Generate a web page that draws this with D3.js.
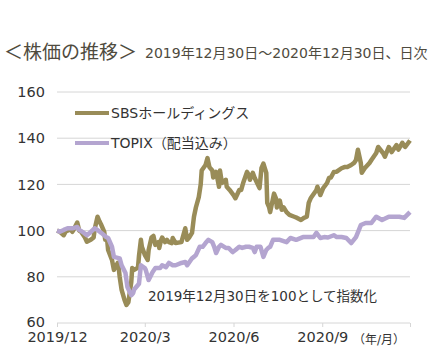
<!DOCTYPE html>
<html>
<head>
<meta charset="utf-8">
<script src="https://cdn.jsdelivr.net/npm/d3@7"></script>
<style>
  body { margin: 0; background: #fff; }
  text { font-family: "DejaVu Sans", "Noto Sans CJK JP", sans-serif; fill: #333; }
</style>
</head>
<body>
<div id="chart"></div>
<script>
// SBS daily index (2019/12/30 = 100)
var sbsDates = ["2019-12-30","2020-01-02","2020-01-06","2020-01-08","2020-01-13","2020-01-15","2020-01-17","2020-01-20","2020-01-22","2020-01-24","2020-01-28","2020-01-30","2020-02-03","2020-02-06","2020-02-07","2020-02-10","2020-02-12","2020-02-14","2020-02-17","2020-02-18","2020-02-20","2020-02-21","2020-02-25","2020-02-27","2020-03-02","2020-03-03","2020-03-04","2020-03-06","2020-03-09","2020-03-11","2020-03-13","2020-03-16","2020-03-17","2020-03-19","2020-03-23","2020-03-24","2020-03-26","2020-03-27","2020-03-30","2020-04-02","2020-04-03","2020-04-06","2020-04-08","2020-04-10","2020-04-13","2020-04-14","2020-04-16","2020-04-17","2020-04-20","2020-04-22","2020-04-24","2020-04-27","2020-04-28","2020-05-01","2020-05-07","2020-05-11","2020-05-13","2020-05-15","2020-05-18","2020-05-20","2020-05-22","2020-05-25","2020-05-27","2020-05-28","2020-06-01","2020-06-03","2020-06-05","2020-06-08","2020-06-09","2020-06-12","2020-06-15","2020-06-16","2020-06-18","2020-06-22","2020-06-23","2020-06-26","2020-06-30","2020-07-02","2020-07-06","2020-07-08","2020-07-10","2020-07-14","2020-07-16","2020-07-17","2020-07-20","2020-07-22","2020-07-27","2020-07-29","2020-07-31","2020-08-03","2020-08-04","2020-08-06","2020-08-07","2020-08-11","2020-08-13","2020-08-14","2020-08-17","2020-08-19","2020-08-21","2020-08-24","2020-08-27","2020-09-01","2020-09-04","2020-09-08","2020-09-11","2020-09-14","2020-09-16","2020-09-18","2020-09-24","2020-09-25","2020-09-28","2020-10-01","2020-10-05","2020-10-07","2020-10-09","2020-10-12","2020-10-15","2020-10-20","2020-10-23","2020-10-26","2020-10-30","2020-11-02","2020-11-04","2020-11-06","2020-11-09","2020-11-10","2020-11-13","2020-11-18","2020-11-20","2020-11-25","2020-11-27","2020-12-02","2020-12-04","2020-12-08","2020-12-11","2020-12-16","2020-12-18","2020-12-22","2020-12-25","2020-12-30"];
var sbsValues = [100,99.5,98,99.6,100.5,99.5,101,103.5,100,99.5,97,95.2,96,97,100.5,106,104,102.4,99.4,96,96,91.6,87.3,83,86,83.8,80,74.3,70,67.8,69,77.7,83.8,83,84,89,96,93,89.5,87.3,91.6,97,97.7,93.8,95,92.5,96,97,95,96,95,94.6,96.8,94.6,95,101,96,97,99,106,110,114.5,120,126,128.4,131.4,127.5,126,123,125.4,119,126,120.6,122,119,117.6,115.4,114,117.6,117.6,120.6,125.4,124,122,125,122.8,118.4,127,129,125,112,110,108,116,114,110,113,109,110,108,106.8,106,105.5,104.6,105.5,106,112,114,117.6,119,115.4,118.4,120.6,122.8,123,125.4,125.5,127,127.5,127.5,128.4,129.3,130.6,135,129.3,125,127,129.3,130.6,133.6,136.2,133.6,132,136.2,134,137,135,138,136.2,139];

// TOPIX (dividends included) index
var topixDates = ["2019-12-30","2020-01-02","2020-01-06","2020-01-10","2020-01-15","2020-01-20","2020-01-22","2020-01-27","2020-01-30","2020-02-03","2020-02-07","2020-02-10","2020-02-14","2020-02-19","2020-02-21","2020-02-25","2020-02-27","2020-03-04","2020-03-06","2020-03-10","2020-03-12","2020-03-16","2020-03-18","2020-03-19","2020-03-24","2020-03-26","2020-03-30","2020-03-31","2020-04-03","2020-04-07","2020-04-10","2020-04-15","2020-04-17","2020-04-21","2020-04-24","2020-04-28","2020-05-01","2020-05-07","2020-05-11","2020-05-13","2020-05-18","2020-05-20","2020-05-22","2020-05-26","2020-05-29","2020-06-01","2020-06-04","2020-06-08","2020-06-10","2020-06-12","2020-06-15","2020-06-17","2020-06-22","2020-06-25","2020-06-29","2020-07-02","2020-07-06","2020-07-09","2020-07-13","2020-07-16","2020-07-20","2020-07-22","2020-07-24","2020-07-28","2020-07-31","2020-08-03","2020-08-05","2020-08-07","2020-08-10","2020-08-13","2020-08-17","2020-08-24","2020-08-28","2020-09-03","2020-09-10","2020-09-14","2020-09-21","2020-09-24","2020-09-28","2020-10-02","2020-10-06","2020-10-12","2020-10-15","2020-10-20","2020-10-25","2020-10-30","2020-11-04","2020-11-09","2020-11-14","2020-11-20","2020-11-25","2020-12-01","2020-12-08","2020-12-14","2020-12-19","2020-12-24","2020-12-30"];
var topixValues = [100,99.5,100.3,101,101,101.6,100.3,99,98,99.4,101,100.3,99,97.2,96.8,93,88.6,88,85,81.6,75.6,72,73,74.5,77,85,83.8,83,78.6,82,83.8,83.8,85,84.2,86,85,85,86,86.4,85,88,88.6,89.4,93,93,94.6,96,95,93,90.3,93,93.8,92.5,92.5,90.7,91.6,93,92.5,93,93,92.5,90.7,93,93,88.6,91.6,92.5,93,96,96,96,95,96.8,96,97.2,97.2,97.2,99,96.8,97.2,97,98,97.2,97.2,96.8,94.6,97.2,102.4,103.3,103.3,106,104.6,106,106,106,105.5,108];

var yTicks = [60, 80, 100, 120, 140, 160];
var xTickDates = ["2019-12-30","2020-03-30","2020-06-30","2020-09-30","2020-12-30"];
var xTickLabels = ["2019/12","2020/3","2020/6","2020/9",""];

var svgWidth = 431;
var svgHeight = 352;
var margin = { top: 92, right: 21, bottom: 29, left: 57 };
var width = svgWidth - margin.left - margin.right;
var height = svgHeight - margin.top - margin.bottom;

var parseDate = d3.timeParse("%Y-%m-%d");
var colorSbs = "#998c58";
var colorTopix = "#b4a5d0";

var svg = d3.select("#chart").append("svg")
    .attr("width", svgWidth)
    .attr("height", svgHeight);

// Title
svg.append("text")
    .attr("x", 4)
    .attr("y", 59)
    .style("font-family", "'Noto Sans CJK JP', sans-serif")
    .style("font-size", "19px")
    .style("fill", "#4f4b3e")
    .text("＜株価の推移＞");

svg.append("text")
    .attr("x", 145)
    .attr("y", 58)
    .style("font-size", "14px")
    .style("fill", "#4f4b3e")
    .text("2019年12月30日～2020年12月30日、日次");

var chartGroup = svg.append("g")
    .attr("transform", `translate(${margin.left}, ${margin.top})`);

var xScale = d3.scaleTime()
    .domain([parseDate("2019-12-30"), parseDate("2020-12-30")])
    .range([0, width]);

var yScale = d3.scaleLinear()
    .domain([60, 160])
    .range([height, 0]);

// Grid lines
chartGroup.append("g")
    .selectAll("line")
    .data(yTicks)
    .enter()
    .append("line")
    .attr("x1", 0)
    .attr("x2", width)
    .attr("y1", d => yScale(d))
    .attr("y2", d => yScale(d))
    .attr("stroke", "#d6d6d6")
    .attr("stroke-width", 1);

// Y labels
chartGroup.append("g")
    .selectAll("text")
    .data(yTicks)
    .enter()
    .append("text")
    .attr("x", -12)
    .attr("y", d => yScale(d))
    .attr("dy", d => d === 60 ? "0.25em" : "0.36em")
    .attr("text-anchor", "end")
    .style("font-size", "14.5px")
    .text(d => d);

// X axis ticks
var bottomAxis = d3.axisBottom(xScale)
    .tickValues(xTickDates.map(parseDate))
    .tickSize(4)
    .tickPadding(5)
    .tickFormat((d, i) => xTickLabels[i]);

var xAxis = chartGroup.append("g")
    .attr("transform", `translate(0, ${height})`)
    .call(bottomAxis);
xAxis.select(".domain").remove();
xAxis.selectAll("line").attr("stroke", "#d6d6d6");
xAxis.selectAll("text")
    .style("font-size", "14.5px")
    .attr("fill", "#333");

svg.append("text")
    .attr("x", 405)
    .attr("y", 344)
    .attr("text-anchor", "end")
    .style("font-size", "12px")
    .text("（年/月）");

// Lines
var line = d3.line()
    .x(d => xScale(d.date))
    .y(d => yScale(d.value));

var sbsData = sbsDates.map((d, i) => ({ date: parseDate(d), value: sbsValues[i] }));
var topixData = topixDates.map((d, i) => ({ date: parseDate(d), value: topixValues[i] }));

chartGroup.append("path")
    .datum(sbsData)
    .attr("d", line)
    .attr("fill", "none")
    .attr("stroke", colorSbs)
    .attr("stroke-width", 4.5)
    .attr("stroke-linejoin", "round");

chartGroup.append("path")
    .datum(topixData)
    .attr("d", line)
    .attr("fill", "none")
    .attr("stroke", colorTopix)
    .attr("stroke-width", 4.5)
    .attr("stroke-linejoin", "round");

// Legend
var legendItems = [
    { label: "SBSホールディングス", color: colorSbs, y: 113 },
    { label: "TOPIX（配当込み）", color: colorTopix, y: 143 }
];
legendItems.forEach(function(item) {
    svg.append("line")
        .attr("x1", 75)
        .attr("x2", 109)
        .attr("y1", item.y)
        .attr("y2", item.y)
        .attr("stroke", item.color)
        .attr("stroke-width", 4);
    svg.append("text")
        .attr("x", 111)
        .attr("y", item.y)
        .attr("dy", "0.36em")
        .style("font-size", "14px")
        .text(item.label);
});

// Note
svg.append("text")
    .attr("x", 148)
    .attr("y", 301)
    .style("font-size", "13.5px")
    .text("2019年12月30日を100として指数化");
</script>
</body>
</html>
